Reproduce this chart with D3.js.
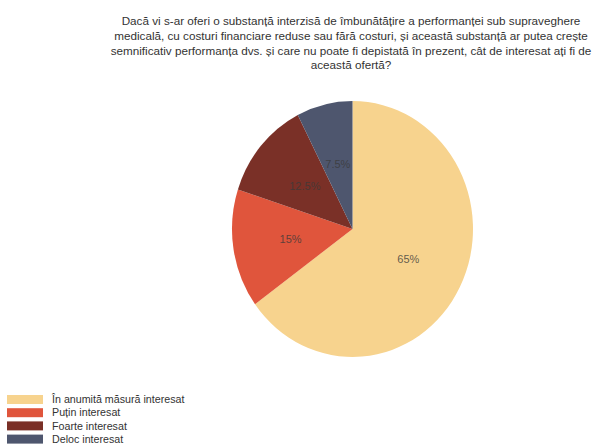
<!DOCTYPE html>
<html><head><meta charset="utf-8">
<script src="https://cdn.jsdelivr.net/npm/d3@7"></script>
<style>body{margin:0;background:#fff;} svg{display:block;font-family:"Liberation Sans",Arial,sans-serif;}</style>
</head><body>
<svg id="c" width="613" height="444"></svg>
<script>
const categories = ["În anumită măsură interesat","Puțin interesat","Foarte interesat","Deloc interesat"];
const values = [65, 15, 12.5, 7.5];
const valueLabels = ["65%","15%","12.5%","7.5%"];
const colors = ["#F7D38E","#E0553C","#7A3027","#4E566E"];
const titleLines = [
  "Dacă vi s-ar oferi o substanță interzisă de îmbunătățire a performanței sub supraveghere",
  "medicală, cu costuri financiare reduse sau fără costuri, și această substanță ar putea crește",
  "semnificativ performanța dvs. și care nu poate fi depistată în prezent, cât de interesat ați fi de",
  "această ofertă?"
];

const svg = d3.select("#c");
const cx = 352.5, cy = 229, rx = 120.5, ry = 128;

svg.append("g").selectAll("text").data(titleLines).join("text")
  .attr("x", 351).attr("y", (d,i) => 25 + i*14.8)
  .attr("text-anchor","middle").attr("font-size", 11.7).attr("fill","#333")
  .text(d => d);

const pie = d3.pie().sort(null).value(d => d.v);
const data = pie(values.map((v,i) => ({v, i})));
const arc = d3.arc().innerRadius(0).outerRadius(rx);

const g = svg.append("g").attr("transform", `translate(${cx},${cy}) scale(1,${ry/rx})`);
g.selectAll("path").data(data).join("path")
  .attr("d", arc).attr("fill", d => colors[d.data.i]);

const labelArc = d3.arc().innerRadius(rx*0.52).outerRadius(rx*0.52);
svg.append("g").selectAll("text").data(data).join("text")
  .attr("x", d => cx + labelArc.centroid(d)[0])
  .attr("y", d => cy + labelArc.centroid(d)[1]*ry/rx)
  .attr("dy","0.35em").attr("text-anchor","middle")
  .attr("font-size", 11).attr("fill","#3a3a3a").attr("fill-opacity",0.8)
  .text((d) => valueLabels[d.data.i]);

const leg = svg.append("g").selectAll("g").data(categories).join("g")
  .attr("transform", (d,i) => `translate(7,${395 + i*13.2})`);
leg.append("rect").attr("width",36).attr("height",9).attr("fill",(d,i)=>colors[i]);
leg.append("text").attr("x",45).attr("y",4.5).attr("dy","0.35em")
  .attr("font-size",10.7).attr("fill","#333").text(d=>d);
</script>
</body></html>
